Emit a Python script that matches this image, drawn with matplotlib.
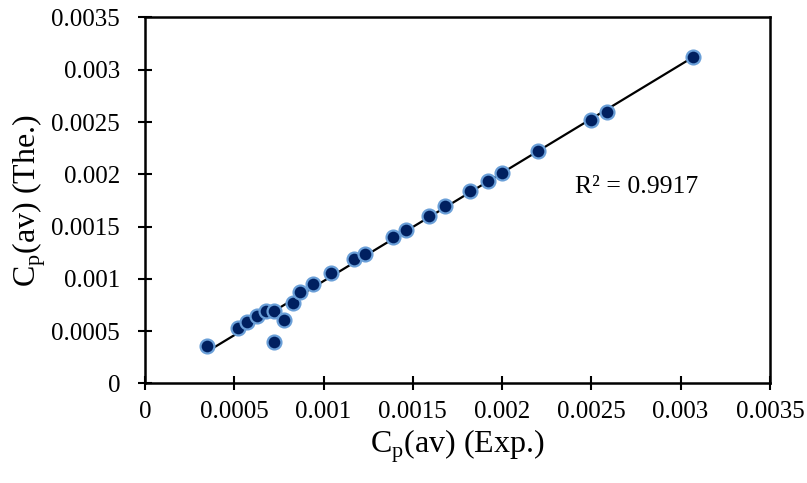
import numpy as np
import matplotlib
matplotlib.use("Agg")
import matplotlib.pyplot as plt

cp_exp = [0.000346, 0.00052, 0.00057, 0.00063, 0.00068, 0.00072, 0.00072, 0.00078,
          0.00083, 0.00087, 0.00094, 0.00104, 0.00117, 0.00123, 0.00139, 0.00146,
          0.00159, 0.00168, 0.00182, 0.00192, 0.00200, 0.00220, 0.00250, 0.00259, 0.00307]
cp_the = [0.00036, 0.00053, 0.00059, 0.00064, 0.00069, 0.00069, 0.00040, 0.00061,
          0.00077, 0.00087, 0.00095, 0.00106, 0.00119, 0.00124, 0.00140, 0.00147,
          0.00160, 0.00170, 0.00184, 0.00194, 0.00201, 0.00222, 0.00252, 0.00260, 0.00312]
ticks = [0, 0.0005, 0.001, 0.0015, 0.002, 0.0025, 0.003, 0.0035]
tick_labels = ["0", "0.0005", "0.001", "0.0015", "0.002", "0.0025", "0.003", "0.0035"]

plt.rcParams['font.family'] = ['Liberation Serif', 'DejaVu Serif']
plt.rcParams['mathtext.fontset'] = 'custom'
plt.rcParams['mathtext.rm'] = 'Liberation Serif'

fig = plt.figure(figsize=(8.07, 4.83), dpi=100)
ax = fig.add_axes([0.1797, 0.2064, 0.7743, 0.7574])

x = np.array(cp_exp)
y = np.array(cp_the)
m, b = np.polyfit(x, y, 1)
xl = np.array([x.min(), x.max()])
ax.plot(xl, m * xl + b, color='black', lw=1.6, zorder=2)
ax.scatter(x, y, s=100, facecolor='#002060', edgecolor='#6a9fd8', linewidths=1.6, zorder=3)

ax.set_xlim(0, 0.0035)
ax.set_ylim(0, 0.0035)
ax.set_xticks(ticks)
ax.set_xticklabels(tick_labels)
ax.set_yticks(ticks)
ax.set_yticklabels(tick_labels)
ax.tick_params(direction='inout', length=10, width=1.5, labelsize=18)
ax.tick_params(axis='x', pad=8)
ax.tick_params(axis='y', pad=13)
for s in ax.spines.values():
    s.set_linewidth(1.8)

ax.set_xlabel(r"C$_\mathregular{p}$(av) (Exp.)", fontsize=23, labelpad=3)
ax.set_ylabel(r"C$_\mathregular{p}$(av) (The.)", fontsize=23, labelpad=2)
ax.text(0.00241, 0.00182, "R² = 0.9917", fontsize=18.5, va='baseline')

fig.savefig("out.png", dpi=100)
